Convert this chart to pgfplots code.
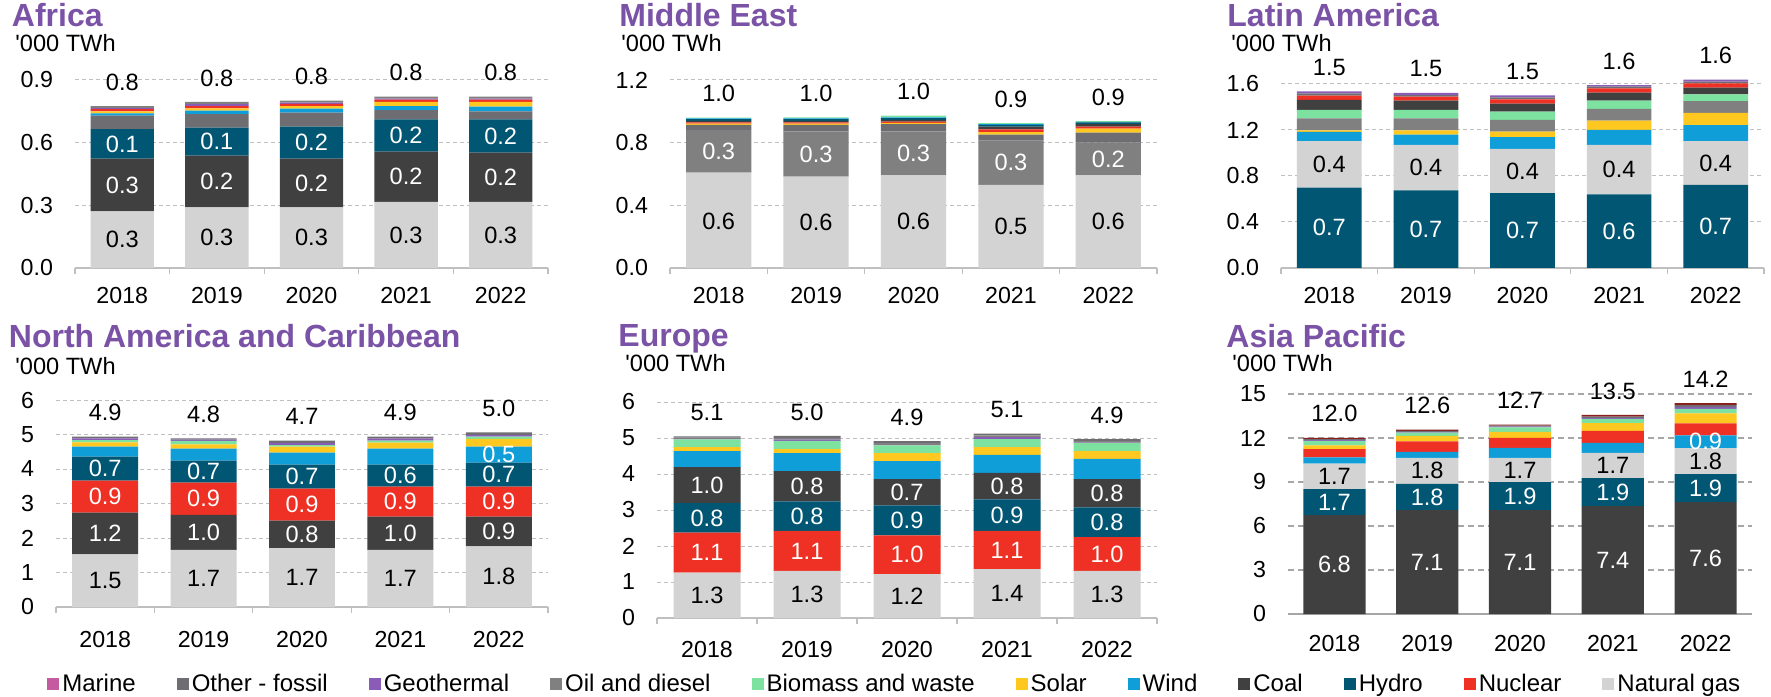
\documentclass[border=0pt]{standalone}
\usepackage{fontspec}
\setmainfont{Liberation Sans}
\newfontfamily\plainfont{Liberation Sans}[Ligatures=TeXOff]
\usepackage{pgfplots}
\usepackage{pgfplotstable}
\pgfplotsset{compat=1.18}

\definecolor{marine}{HTML}{C45AA0}
\definecolor{otherfossil}{HTML}{6E6E72}
\definecolor{geo}{HTML}{8A5CB8}
\definecolor{oil}{HTML}{808080}
\definecolor{bio}{HTML}{7DE1A0}
\definecolor{solar}{HTML}{FFC820}
\definecolor{wind}{HTML}{0F9ED8}
\definecolor{coal}{HTML}{404040}
\definecolor{hydro}{HTML}{005673}
\definecolor{nuclear}{HTML}{EE3124}
\definecolor{gas}{HTML}{D3D3D3}
\definecolor{dred}{HTML}{8B1E1E}
\definecolor{titlepurple}{HTML}{7A52A6}
\definecolor{gridgrey}{HTML}{BFBFBF}
\definecolor{axisgrey}{HTML}{BFBFBF}
\definecolor{asiaaxis}{HTML}{A6A6A6}

\tikzset{
  titl/.style={anchor=base west, inner sep=0pt, text=titlepurple, font=\bfseries\fontsize{16}{19}\selectfont},
  unit/.style={anchor=base west, inner sep=0pt, font=\plainfont\fontsize{11.8}{14}\selectfont},
}

\pgfplotsset{
  panel/.style={scale only axis, anchor=south west, clip=false,
    xmin=-0.5, xmax=4.5, ymin=0,
    xtick={0,1,2,3,4}, xticklabels={2018,2019,2020,2021,2022},
    minor xtick={-0.5,0.5,1.5,2.5,3.5,4.5},
    axis x line*=bottom, axis y line*=left,
    y axis line style={draw=none},
    x axis line style={draw=axisgrey, line width=0.6pt, -},
    major tick length=0pt, minor tick length=3pt, tick align=outside,
    minor tick style={draw=axisgrey, line width=0.6pt},
    ymajorgrids, grid style={dash pattern=on 2pt off 1.5pt, draw=gridgrey, line width=0.5pt},
    tick label style={font=\fontsize{11.6}{13}\selectfont, text=black},
    yticklabel style={xshift=-7.5pt},
    xticklabel style={yshift=-6pt},
    /pgf/number format/assume math mode=true,
    ybar stacked, bar width=0.67},
  dec1/.style={yticklabel style={/pgf/number format/.cd, fixed, fixed zerofill, precision=1}},
  ov/.style={scale only axis, anchor=south west, clip=false,
    xmin=-0.5, xmax=4.5, ymin=0, hide axis},
  lab/.style={only marks, mark=none, nodes near coords, point meta=explicit symbolic,
    every node near coord/.append style={anchor=center, font=\fontsize{11.8}{14}\selectfont, inner sep=0pt}},
  wlab/.style={lab, every node near coord/.append style={text=white}},
  blab/.style={lab, every node near coord/.append style={text=black}},
  tlab/.style={lab, every node near coord/.append style={text=black, yshift=12pt}},
}

% ---------------- data (segment values, '000 TWh) ----------------
\pgfplotstableread[row sep=\\]{
x gas coal hydro other wind solar nuclear geo oil \\
0 0.271 0.252 0.142 0.064 0.011 0.010 0.010 0.005 0.010 \\
1 0.290 0.248 0.134 0.064 0.017 0.011 0.011 0.010 0.010 \\
2 0.290 0.233 0.154 0.067 0.019 0.012 0.011 0.006 0.009 \\
3 0.316 0.241 0.155 0.044 0.019 0.020 0.011 0.005 0.009 \\
4 0.316 0.236 0.160 0.038 0.022 0.023 0.011 0.005 0.009 \\
}\afr

\pgfplotstableread[row sep=\\]{
x gas oil other solar nuclear coal hydro wind bio \\
0 0.609 0.272 0.032 0.008 0.008 0.010 0.012 0.004 0.004 \\
1 0.583 0.289 0.041 0.008 0.008 0.010 0.012 0.004 0.006 \\
2 0.591 0.281 0.047 0.008 0.008 0.010 0.012 0.005 0.010 \\
3 0.530 0.283 0.038 0.017 0.017 0.017 0.011 0.005 0.006 \\
4 0.591 0.209 0.064 0.025 0.013 0.017 0.010 0.004 0.005 \\
}\mea

\pgfplotstableread[row sep=\\]{
x hydro gas wind solar oil bio coal nuclear other geo \\
0 0.699 0.405 0.079 0.014 0.104 0.073 0.087 0.038 0.020 0.017 \\
1 0.675 0.395 0.089 0.038 0.104 0.073 0.081 0.035 0.014 0.018 \\
2 0.652 0.383 0.104 0.047 0.101 0.072 0.070 0.038 0.017 0.017 \\
3 0.641 0.429 0.130 0.081 0.102 0.072 0.070 0.037 0.015 0.014 \\
4 0.722 0.382 0.139 0.105 0.104 0.058 0.058 0.038 0.014 0.018 \\
}\lat

\pgfplotstableread[row sep=\\]{
x gas coal nuclear hydro wind solar bio geo other \\
0 1.524 1.215 0.925 0.695 0.289 0.125 0.067 0.050 0.047 \\
1 1.659 1.012 0.936 0.636 0.347 0.125 0.097 0.038 0.039 \\
2 1.707 0.800 0.926 0.694 0.347 0.174 0.048 0.064 0.062 \\
3 1.659 0.964 0.868 0.636 0.463 0.174 0.058 0.058 0.057 \\
4 1.755 0.868 0.868 0.694 0.463 0.222 0.067 0.053 0.073 \\
}\nam

\pgfplotstableread[row sep=\\]{
x gas nuclear hydro coal wind solar bio geo oil other \\
0 1.260 1.111 0.820 1.003 0.445 0.111 0.213 0.010 0.040 0.034 \\
1 1.306 1.111 0.824 0.842 0.500 0.111 0.223 0.040 0.050 0.050 \\
2 1.220 1.076 0.834 0.731 0.500 0.222 0.213 0.010 0.050 0.060 \\
3 1.361 1.056 0.879 0.732 0.500 0.222 0.222 0.050 0.050 0.048 \\
4 1.306 0.944 0.824 0.787 0.556 0.222 0.222 0.010 0.050 0.050 \\
}\eur

\pgfplotstableread[row sep=\\]{
x coal hydro gas wind nuclear solar bio geo other dred \\
0 6.75 1.77 1.74 0.42 0.57 0.25 0.30 0.05 0.08 0.08 \\
1 7.08 1.80 1.77 0.41 0.71 0.38 0.21 0.05 0.08 0.08 \\
2 7.08 1.91 1.66 0.68 0.68 0.41 0.30 0.05 0.08 0.06 \\
3 7.36 1.90 1.72 0.68 0.82 0.54 0.28 0.05 0.10 0.12 \\
4 7.62 1.91 1.78 0.87 0.82 0.68 0.30 0.12 0.14 0.14 \\
}\asp

\begin{document}
\begin{tikzpicture}
\path[use as bounding box] (0,0) rectangle (885.5pt,348pt);

% ================= AFRICA =================
\node[titl] at (5.75pt,334.5pt) {Africa};
\node[unit] at (7.5pt,322pt) {'000 TWh};
\begin{axis}[panel, dec1, at={(37.5pt,214pt)}, width=236.5pt, height=94pt,
  ymax=0.9, ytick={0,0.3,0.6,0.9}]
\addplot[fill=gas, draw=none] table[x=x,y=gas] {\afr};
\addplot[fill=coal, draw=none] table[x=x,y=coal] {\afr};
\addplot[fill=hydro, draw=none] table[x=x,y=hydro] {\afr};
\addplot[fill=otherfossil, draw=none] table[x=x,y=other] {\afr};
\addplot[fill=wind, draw=none] table[x=x,y=wind] {\afr};
\addplot[fill=solar, draw=none] table[x=x,y=solar] {\afr};
\addplot[fill=nuclear, draw=none] table[x=x,y=nuclear] {\afr};
\addplot[fill=geo, draw=none] table[x=x,y=geo] {\afr};
\addplot[fill=oil, draw=none] table[x=x,y=oil] {\afr};
\end{axis}
\begin{axis}[ov, at={(37.5pt,214pt)}, width=236.5pt, height=94pt, ymax=0.9]
\addplot[blab] table[row sep=\\, meta=l] {x y l \\ 0 0.136 0.3 \\ 1 0.145 0.3 \\ 2 0.145 0.3 \\ 3 0.158 0.3 \\ 4 0.158 0.3 \\};
\addplot[wlab] table[row sep=\\, meta=l] {x y l \\ 0 0.397 0.3 \\ 1 0.414 0.2 \\ 2 0.407 0.2 \\ 3 0.437 0.2 \\ 4 0.434 0.2 \\};
\addplot[wlab] table[row sep=\\, meta=l] {x y l \\ 0 0.594 0.1 \\ 1 0.605 0.1 \\ 2 0.600 0.2 \\ 3 0.635 0.2 \\ 4 0.632 0.2 \\};
\addplot[tlab] table[row sep=\\, meta=l] {x y l \\ 0 0.775 0.8 \\ 1 0.795 0.8 \\ 2 0.801 0.8 \\ 3 0.820 0.8 \\ 4 0.820 0.8 \\};
\end{axis}

% ================= MIDDLE EAST =================
\node[titl] at (309.5pt,334.5pt) {Middle East};
\node[unit] at (310.5pt,322pt) {'000 TWh};
\begin{axis}[panel, dec1, at={(335pt,214pt)}, width=243.5pt, height=94pt,
  ymax=1.2, ytick={0,0.4,0.8,1.2}]
\addplot[fill=gas, draw=none] table[x=x,y=gas] {\mea};
\addplot[fill=oil, draw=none] table[x=x,y=oil] {\mea};
\addplot[fill=otherfossil, draw=none] table[x=x,y=other] {\mea};
\addplot[fill=solar, draw=none] table[x=x,y=solar] {\mea};
\addplot[fill=nuclear, draw=none] table[x=x,y=nuclear] {\mea};
\addplot[fill=coal, draw=none] table[x=x,y=coal] {\mea};
\addplot[fill=hydro, draw=none] table[x=x,y=hydro] {\mea};
\addplot[fill=wind, draw=none] table[x=x,y=wind] {\mea};
\addplot[fill=bio, draw=none] table[x=x,y=bio] {\mea};
\end{axis}
\begin{axis}[ov, at={(335pt,214pt)}, width=243.5pt, height=94pt, ymax=1.2]
\addplot[blab] table[row sep=\\, meta=l] {x y l \\ 0 0.300 0.6 \\ 1 0.290 0.6 \\ 2 0.300 0.6 \\ 3 0.265 0.5 \\ 4 0.300 0.6 \\};
\addplot[wlab] table[row sep=\\, meta=l] {x y l \\ 0 0.745 0.3 \\ 1 0.728 0.3 \\ 2 0.732 0.3 \\ 3 0.672 0.3 \\ 4 0.696 0.2 \\};
\addplot[tlab] table[row sep=\\, meta=l] {x y l \\ 0 0.959 1.0 \\ 1 0.961 1.0 \\ 2 0.972 1.0 \\ 3 0.924 0.9 \\ 4 0.938 0.9 \\};
\end{axis}

% ================= LATIN AMERICA =================
\node[titl] at (613.5pt,334.5pt) {Latin America};
\node[unit] at (615.5pt,322pt) {'000 TWh};
\begin{axis}[panel, dec1, at={(640.5pt,214pt)}, width=241.5pt, height=92pt,
  ymax=1.6, ytick={0,0.4,0.8,1.2,1.6}]
\addplot[fill=hydro, draw=none] table[x=x,y=hydro] {\lat};
\addplot[fill=gas, draw=none] table[x=x,y=gas] {\lat};
\addplot[fill=wind, draw=none] table[x=x,y=wind] {\lat};
\addplot[fill=solar, draw=none] table[x=x,y=solar] {\lat};
\addplot[fill=oil, draw=none] table[x=x,y=oil] {\lat};
\addplot[fill=bio, draw=none] table[x=x,y=bio] {\lat};
\addplot[fill=coal, draw=none] table[x=x,y=coal] {\lat};
\addplot[fill=nuclear, draw=none] table[x=x,y=nuclear] {\lat};
\addplot[fill=otherfossil, draw=none] table[x=x,y=other] {\lat};
\addplot[fill=geo, draw=none] table[x=x,y=geo] {\lat};
\end{axis}
\begin{axis}[ov, at={(640.5pt,214pt)}, width=241.5pt, height=92pt, ymax=1.6]
\addplot[wlab] table[row sep=\\, meta=l] {x y l \\ 0 0.350 0.7 \\ 1 0.338 0.7 \\ 2 0.326 0.7 \\ 3 0.321 0.6 \\ 4 0.361 0.7 \\};
\addplot[blab] table[row sep=\\, meta=l] {x y l \\ 0 0.902 0.4 \\ 1 0.873 0.4 \\ 2 0.844 0.4 \\ 3 0.856 0.4 \\ 4 0.913 0.4 \\};
\addplot[tlab] table[row sep=\\, meta=l] {x y l \\ 0 1.536 1.5 \\ 1 1.522 1.5 \\ 2 1.501 1.5 \\ 3 1.591 1.6 \\ 4 1.638 1.6 \\};
\end{axis}

% ================= NORTH AMERICA =================
\node[titl] at (4.25pt,174pt) {North America and Caribbean};
\node[unit] at (7.5pt,160.5pt) {'000 TWh};
\begin{axis}[panel, at={(28pt,44.5pt)}, width=246pt, height=103.5pt,
  ymax=6, ytick={0,1,...,6}, xticklabel style={yshift=-2.5pt}]
\addplot[fill=gas, draw=none] table[x=x,y=gas] {\nam};
\addplot[fill=coal, draw=none] table[x=x,y=coal] {\nam};
\addplot[fill=nuclear, draw=none] table[x=x,y=nuclear] {\nam};
\addplot[fill=hydro, draw=none] table[x=x,y=hydro] {\nam};
\addplot[fill=wind, draw=none] table[x=x,y=wind] {\nam};
\addplot[fill=solar, draw=none] table[x=x,y=solar] {\nam};
\addplot[fill=bio, draw=none] table[x=x,y=bio] {\nam};
\addplot[fill=geo, draw=none] table[x=x,y=geo] {\nam};
\addplot[fill=otherfossil, draw=none] table[x=x,y=other] {\nam};
\end{axis}
\begin{axis}[ov, at={(28pt,44.5pt)}, width=246pt, height=103.5pt, ymax=6]
\addplot[blab] table[row sep=\\, meta=l] {x y l \\ 0 0.762 1.5 \\ 1 0.830 1.7 \\ 2 0.854 1.7 \\ 3 0.830 1.7 \\ 4 0.878 1.8 \\};
\addplot[wlab] table[row sep=\\, meta=l] {x y l \\ 0 2.132 1.2 \\ 1 2.165 1.0 \\ 2 2.107 0.8 \\ 3 2.141 1.0 \\ 4 2.189 0.9 \\};
\addplot[wlab] table[row sep=\\, meta=l] {x y l \\ 0 3.202 0.9 \\ 1 3.139 0.9 \\ 2 2.970 0.9 \\ 3 3.057 0.9 \\ 4 3.057 0.9 \\};
\addplot[wlab] table[row sep=\\, meta=l] {x y l \\ 0 4.012 0.7 \\ 1 3.925 0.7 \\ 2 3.780 0.7 \\ 3 3.809 0.6 \\ 4 3.838 0.7 \\};
\addplot[wlab] table[row sep=\\, meta=l] {x y l \\ 4 4.417 0.5 \\};
\addplot[tlab] table[row sep=\\, meta=l] {x y l \\ 0 4.937 4.9 \\ 1 4.889 4.8 \\ 2 4.822 4.7 \\ 3 4.937 4.9 \\ 4 5.063 5.0 \\};
\end{axis}

% ================= EUROPE =================
\node[titl] at (309pt,174.5pt) {Europe};
\node[unit] at (312.5pt,162pt) {'000 TWh};
\begin{axis}[panel, at={(328.5pt,39pt)}, width=250pt, height=108pt,
  ymax=6, ytick={0,1,...,6}, xticklabel style={yshift=-2pt}]
\addplot[fill=gas, draw=none] table[x=x,y=gas] {\eur};
\addplot[fill=nuclear, draw=none] table[x=x,y=nuclear] {\eur};
\addplot[fill=hydro, draw=none] table[x=x,y=hydro] {\eur};
\addplot[fill=coal, draw=none] table[x=x,y=coal] {\eur};
\addplot[fill=wind, draw=none] table[x=x,y=wind] {\eur};
\addplot[fill=solar, draw=none] table[x=x,y=solar] {\eur};
\addplot[fill=bio, draw=none] table[x=x,y=bio] {\eur};
\addplot[fill=geo, draw=none] table[x=x,y=geo] {\eur};
\addplot[fill=oil, draw=none] table[x=x,y=oil] {\eur};
\addplot[fill=otherfossil, draw=none] table[x=x,y=other] {\eur};
\end{axis}
\begin{axis}[ov, at={(328.5pt,39pt)}, width=250pt, height=108pt, ymax=6]
\addplot[blab] table[row sep=\\, meta=l] {x y l \\ 0 0.630 1.3 \\ 1 0.653 1.3 \\ 2 0.610 1.2 \\ 3 0.680 1.4 \\ 4 0.653 1.3 \\};
\addplot[wlab] table[row sep=\\, meta=l] {x y l \\ 0 1.816 1.1 \\ 1 1.862 1.1 \\ 2 1.758 1.0 \\ 3 1.889 1.1 \\ 4 1.778 1.0 \\};
\addplot[wlab] table[row sep=\\, meta=l] {x y l \\ 0 2.781 0.8 \\ 1 2.829 0.8 \\ 2 2.713 0.9 \\ 3 2.857 0.9 \\ 4 2.662 0.8 \\};
\addplot[wlab] table[row sep=\\, meta=l] {x y l \\ 0 3.693 1.0 \\ 1 3.662 0.8 \\ 2 3.496 0.7 \\ 3 3.662 0.8 \\ 4 3.468 0.8 \\};
\addplot[tlab] table[row sep=\\, meta=l] {x y l \\ 0 5.047 5.1 \\ 1 5.057 5.0 \\ 2 4.916 4.9 \\ 3 5.120 5.1 \\ 4 4.971 4.9 \\};
\end{axis}

% ================= ASIA PACIFIC =================
\node[titl] at (613pt,174pt) {Asia Pacific};
\node[unit] at (616pt,162pt) {'000 TWh};
\begin{axis}[panel, at={(644pt,41pt)}, width=232pt, height=110pt,
  ymax=15, ytick={0,3,...,15}, xticklabel style={yshift=-1pt},
  x axis line style={draw=asiaaxis, line width=1.2pt},
  minor tick length=0pt,
  grid style={dash pattern=on 3pt off 2pt, draw=asiaaxis, line width=0.6pt}]
\addplot[fill=coal, draw=none] table[x=x,y=coal] {\asp};
\addplot[fill=hydro, draw=none] table[x=x,y=hydro] {\asp};
\addplot[fill=gas, draw=none] table[x=x,y=gas] {\asp};
\addplot[fill=wind, draw=none] table[x=x,y=wind] {\asp};
\addplot[fill=nuclear, draw=none] table[x=x,y=nuclear] {\asp};
\addplot[fill=solar, draw=none] table[x=x,y=solar] {\asp};
\addplot[fill=bio, draw=none] table[x=x,y=bio] {\asp};
\addplot[fill=geo, draw=none] table[x=x,y=geo] {\asp};
\addplot[fill=otherfossil, draw=none] table[x=x,y=other] {\asp};
\addplot[fill=dred, draw=none] table[x=x,y=dred] {\asp};
\end{axis}
\begin{axis}[ov, at={(644pt,41pt)}, width=232pt, height=110pt, ymax=15]
\addplot[wlab] table[row sep=\\, meta=l] {x y l \\ 0 3.375 6.8 \\ 1 3.54 7.1 \\ 2 3.54 7.1 \\ 3 3.68 7.4 \\ 4 3.81 7.6 \\};
\addplot[wlab] table[row sep=\\, meta=l] {x y l \\ 0 7.635 1.7 \\ 1 7.98 1.8 \\ 2 8.035 1.9 \\ 3 8.31 1.9 \\ 4 8.575 1.9 \\};
\addplot[blab] table[row sep=\\, meta=l] {x y l \\ 0 9.39 1.7 \\ 1 9.765 1.8 \\ 2 9.82 1.7 \\ 3 10.12 1.7 \\ 4 10.42 1.8 \\};
\addplot[wlab] table[row sep=\\, meta=l] {x y l \\ 4 11.745 0.9 \\};
\addplot[tlab] table[row sep=\\, meta=l] {x y l \\ 0 12.01 12.0 \\ 1 12.57 12.6 \\ 2 12.91 12.7 \\ 3 13.57 13.5 \\ 4 14.38 14.2 \\};
\end{axis}

% ================= LEGEND =================
\begin{axis}[at={(0pt,1pt)}, anchor=south west, scale only axis, width=885.5pt, height=10pt,
  hide axis, xmin=0, xmax=1, ymin=0, ymax=1,
  legend columns=11,
  legend image code/.code={\fill[#1] (0pt,-3pt) rectangle (6pt,3pt);},
  legend style={at={(0.02654,0.5)}, anchor=west, draw=none, fill=none, inner sep=0pt,
    font=\fontsize{12}{14}\selectfont,
    /tikz/every even column/.append style={column sep=19pt},
    nodes={inner sep=1.5pt}}]
\addlegendimage{fill=marine, draw=none}\addlegendentry{Marine}
\addlegendimage{fill=otherfossil, draw=none}\addlegendentry{Other - fossil}
\addlegendimage{fill=geo, draw=none}\addlegendentry{Geothermal}
\addlegendimage{fill=oil, draw=none}\addlegendentry{Oil and diesel}
\addlegendimage{fill=bio, draw=none}\addlegendentry{Biomass and waste}
\addlegendimage{fill=solar, draw=none}\addlegendentry{Solar}
\addlegendimage{fill=wind, draw=none}\addlegendentry{Wind}
\addlegendimage{fill=coal, draw=none}\addlegendentry{Coal}
\addlegendimage{fill=hydro, draw=none}\addlegendentry{Hydro}
\addlegendimage{fill=nuclear, draw=none}\addlegendentry{Nuclear}
\addlegendimage{fill=gas, draw=none}\addlegendentry{Natural gas}
\end{axis}
\end{tikzpicture}
\end{document}
